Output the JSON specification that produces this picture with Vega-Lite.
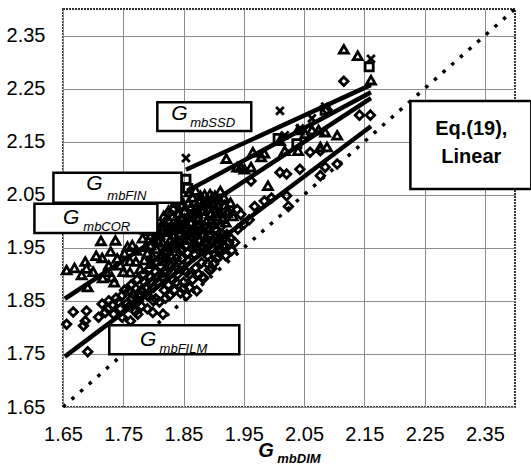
{
  "$schema": "https://vega.github.io/schema/vega-lite/v6.json",
  "width": 452,
  "height": 398,
  "autosize": {"type": "none"},
  "padding": {"left": 63, "top": 9, "right": 16, "bottom": 58},
  "background": "white",
  "config": {
    "view": {"stroke": "#333", "strokeWidth": 2, "strokeDash": [2, 1]},
    "font": "Liberation Sans"
  },
  "datasets": {
    "pts": [
      {"x": 1.656, "y": 1.908, "s": "tri"}, {"x": 1.669, "y": 1.912, "s": "tri"}, {"x": 1.687, "y": 1.924, "s": "tri"},
      {"x": 1.689, "y": 1.911, "s": "tri"}, {"x": 1.681, "y": 1.899, "s": "tri"}, {"x": 1.691, "y": 1.876, "s": "tri"},
      {"x": 1.713, "y": 1.963, "s": "tri"}, {"x": 1.737, "y": 1.964, "s": "tri"}, {"x": 1.729, "y": 1.943, "s": "tri"},
      {"x": 1.715, "y": 1.931, "s": "tri"}, {"x": 1.726, "y": 1.917, "s": "tri"}, {"x": 1.716, "y": 1.893, "s": "tri"},
      {"x": 1.731, "y": 1.895, "s": "tri"}, {"x": 1.745, "y": 1.917, "s": "tri"}, {"x": 1.761, "y": 1.925, "s": "tri"},
      {"x": 1.761, "y": 1.904, "s": "tri"}, {"x": 1.757, "y": 1.952, "s": "tri"}, {"x": 1.765, "y": 1.955, "s": "tri"},
      {"x": 1.771, "y": 1.924, "s": "tri"}, {"x": 1.785, "y": 1.927, "s": "tri"}, {"x": 1.796, "y": 1.920, "s": "tri"},
      {"x": 1.782, "y": 1.968, "s": "tri"}, {"x": 1.796, "y": 1.974, "s": "tri"},
      {"x": 1.700, "y": 1.905, "s": "tri"}, {"x": 1.705, "y": 1.935, "s": "tri"}, {"x": 1.722, "y": 1.905, "s": "tri"},
      {"x": 1.740, "y": 1.930, "s": "tri"}, {"x": 1.750, "y": 1.905, "s": "tri"}, {"x": 1.735, "y": 1.885, "s": "tri"},
      {"x": 1.752, "y": 1.940, "s": "tri"}, {"x": 1.772, "y": 1.945, "s": "tri"}, {"x": 1.778, "y": 1.910, "s": "tri"},
      {"x": 1.790, "y": 1.940, "s": "tri"}, {"x": 1.795, "y": 1.955, "s": "tri"}, {"x": 1.800, "y": 1.965, "s": "tri"},
      {"x": 1.805, "y": 1.948, "s": "tri"}, {"x": 1.810, "y": 1.975, "s": "tri"}, {"x": 1.812, "y": 1.990, "s": "tri"},
      {"x": 1.815, "y": 1.960, "s": "tri"}, {"x": 1.818, "y": 1.998, "s": "tri"}, {"x": 1.820, "y": 1.945, "s": "tri"},
      {"x": 1.822, "y": 1.980, "s": "tri"}, {"x": 1.825, "y": 2.003, "s": "tri"}, {"x": 1.828, "y": 1.965, "s": "tri"},
      {"x": 1.830, "y": 1.990, "s": "tri"}, {"x": 1.832, "y": 2.010, "s": "tri"}, {"x": 1.835, "y": 1.975, "s": "tri"},
      {"x": 1.838, "y": 1.950, "s": "tri"}, {"x": 1.840, "y": 1.998, "s": "tri"}, {"x": 1.842, "y": 2.015, "s": "tri"},
      {"x": 1.845, "y": 1.985, "s": "tri"}, {"x": 1.848, "y": 2.005, "s": "tri"}, {"x": 1.850, "y": 1.965, "s": "tri"},
      {"x": 1.852, "y": 2.020, "s": "tri"}, {"x": 1.855, "y": 1.995, "s": "tri"}, {"x": 1.858, "y": 2.035, "s": "tri"},
      {"x": 1.860, "y": 1.978, "s": "tri"}, {"x": 1.862, "y": 2.010, "s": "tri"}, {"x": 1.865, "y": 2.045, "s": "tri"},
      {"x": 1.868, "y": 1.990, "s": "tri"}, {"x": 1.870, "y": 2.025, "s": "tri"}, {"x": 1.872, "y": 1.955, "s": "tri"},
      {"x": 1.875, "y": 2.005, "s": "tri"}, {"x": 1.878, "y": 2.040, "s": "tri"}, {"x": 1.880, "y": 1.985, "s": "tri"},
      {"x": 1.882, "y": 2.020, "s": "tri"}, {"x": 1.885, "y": 2.050, "s": "tri"}, {"x": 1.888, "y": 2.000, "s": "tri"},
      {"x": 1.890, "y": 2.035, "s": "tri"}, {"x": 1.893, "y": 1.975, "s": "tri"}, {"x": 1.895, "y": 2.015, "s": "tri"},
      {"x": 1.898, "y": 2.045, "s": "tri"}, {"x": 1.900, "y": 1.995, "s": "tri"}, {"x": 1.903, "y": 2.025, "s": "tri"},
      {"x": 1.905, "y": 2.010, "s": "tri"}, {"x": 1.910, "y": 2.040, "s": "tri"}, {"x": 1.915, "y": 2.005, "s": "tri"},
      {"x": 1.918, "y": 2.030, "s": "tri"}, {"x": 1.925, "y": 2.020, "s": "tri"}, {"x": 1.806, "y": 1.925, "s": "tri"},
      {"x": 1.830, "y": 1.935, "s": "tri"}, {"x": 1.878, "y": 2.048, "s": "tri"}, {"x": 1.894, "y": 2.051, "s": "tri"},
      {"x": 1.911, "y": 2.057, "s": "tri"}, {"x": 1.900, "y": 2.032, "s": "tri"}, {"x": 1.906, "y": 2.016, "s": "tri"},
      {"x": 1.883, "y": 2.022, "s": "tri"}, {"x": 1.922, "y": 2.016, "s": "tri"},
      {"x": 1.787, "y": 1.952, "s": "tri"}, {"x": 1.793, "y": 1.982, "s": "tri"}, {"x": 1.798, "y": 1.935, "s": "tri"},
      {"x": 1.803, "y": 1.990, "s": "tri"}, {"x": 1.808, "y": 1.962, "s": "tri"}, {"x": 1.813, "y": 1.938, "s": "tri"},
      {"x": 1.817, "y": 2.010, "s": "tri"}, {"x": 1.823, "y": 1.955, "s": "tri"}, {"x": 1.827, "y": 1.985, "s": "tri"},
      {"x": 1.833, "y": 2.025, "s": "tri"}, {"x": 1.837, "y": 1.963, "s": "tri"}, {"x": 1.843, "y": 1.995, "s": "tri"},
      {"x": 1.847, "y": 2.030, "s": "tri"}, {"x": 1.853, "y": 1.975, "s": "tri"}, {"x": 1.857, "y": 2.008, "s": "tri"},
      {"x": 1.863, "y": 2.028, "s": "tri"}, {"x": 1.867, "y": 1.962, "s": "tri"}, {"x": 1.873, "y": 2.015, "s": "tri"},
      {"x": 1.877, "y": 1.995, "s": "tri"}, {"x": 1.883, "y": 2.035, "s": "tri"}, {"x": 1.887, "y": 1.970, "s": "tri"},
      {"x": 1.892, "y": 2.025, "s": "tri"}, {"x": 1.897, "y": 2.003, "s": "tri"}, {"x": 1.902, "y": 2.048, "s": "tri"},
      {"x": 1.907, "y": 2.030, "s": "tri"}, {"x": 1.912, "y": 2.015, "s": "tri"}, {"x": 1.917, "y": 2.045, "s": "tri"},
      {"x": 1.920, "y": 1.998, "s": "tri"}, {"x": 1.928, "y": 2.035, "s": "tri"}, {"x": 1.932, "y": 2.010, "s": "tri"},
      {"x": 1.860, "y": 2.055, "s": "tri"}, {"x": 1.870, "y": 2.058, "s": "tri"}, {"x": 1.880, "y": 2.030, "s": "tri"},
      {"x": 1.846, "y": 2.040, "s": "tri"}, {"x": 1.836, "y": 2.035, "s": "tri"}, {"x": 1.825, "y": 2.020, "s": "tri"},
      {"x": 1.815, "y": 1.985, "s": "tri"}, {"x": 1.805, "y": 1.975, "s": "tri"}, {"x": 1.786, "y": 1.985, "s": "tri"},
      {"x": 1.921, "y": 2.118, "s": "tri"}, {"x": 1.939, "y": 2.102, "s": "tri"}, {"x": 1.951, "y": 2.098, "s": "tri"},
      {"x": 1.965, "y": 2.130, "s": "tri"}, {"x": 1.979, "y": 2.121, "s": "tri"}, {"x": 1.990, "y": 2.067, "s": "tri"},
      {"x": 1.984, "y": 2.128, "s": "tri"}, {"x": 1.962, "y": 2.102, "s": "tri"}, {"x": 1.945, "y": 2.102, "s": "tri"},
      {"x": 2.010, "y": 2.152, "s": "tri"}, {"x": 2.018, "y": 2.133, "s": "tri"}, {"x": 2.040, "y": 2.172, "s": "tri"},
      {"x": 2.040, "y": 2.133, "s": "tri"}, {"x": 2.052, "y": 2.165, "s": "tri"}, {"x": 2.063, "y": 2.172, "s": "tri"},
      {"x": 2.074, "y": 2.172, "s": "tri"}, {"x": 2.085, "y": 2.168, "s": "tri"}, {"x": 2.077, "y": 2.140, "s": "tri"},
      {"x": 2.088, "y": 2.140, "s": "tri"}, {"x": 2.105, "y": 2.162, "s": "tri"},
      {"x": 2.116, "y": 2.324, "s": "tri"}, {"x": 2.139, "y": 2.312, "s": "tri"}, {"x": 2.161, "y": 2.266, "s": "tri"},
      {"x": 1.854, "y": 2.119, "s": "x"}, {"x": 2.010, "y": 2.208, "s": "x"}, {"x": 2.161, "y": 2.306, "s": "x"},
      {"x": 2.043, "y": 2.175, "s": "x"}, {"x": 2.063, "y": 2.194, "s": "x"}, {"x": 2.018, "y": 2.162, "s": "x"},
      {"x": 2.085, "y": 2.216, "s": "x"},
      {"x": 1.854, "y": 2.079, "s": "sq"}, {"x": 2.158, "y": 2.291, "s": "sq"}, {"x": 2.007, "y": 2.156, "s": "sq"},
      {"x": 2.038, "y": 2.146, "s": "sq"}, {"x": 2.085, "y": 2.209, "s": "sq"}, {"x": 1.857, "y": 2.062, "s": "sq"},
      {"x": 1.656, "y": 1.806, "s": "dia"}, {"x": 1.667, "y": 1.829, "s": "dia"}, {"x": 1.684, "y": 1.803, "s": "dia"},
      {"x": 1.689, "y": 1.831, "s": "dia"}, {"x": 1.687, "y": 1.812, "s": "dia"}, {"x": 1.691, "y": 1.754, "s": "dia"},
      {"x": 1.709, "y": 1.819, "s": "dia"}, {"x": 1.715, "y": 1.844, "s": "dia"}, {"x": 1.726, "y": 1.850, "s": "dia"},
      {"x": 1.720, "y": 1.828, "s": "dia"}, {"x": 1.734, "y": 1.825, "s": "dia"}, {"x": 1.748, "y": 1.860, "s": "dia"},
      {"x": 1.760, "y": 1.869, "s": "dia"}, {"x": 1.771, "y": 1.873, "s": "dia"}, {"x": 1.774, "y": 1.825, "s": "dia"},
      {"x": 1.748, "y": 1.819, "s": "dia"}, {"x": 1.762, "y": 1.812, "s": "dia"},
      {"x": 1.760, "y": 1.840, "s": "dia"}, {"x": 1.765, "y": 1.855, "s": "dia"}, {"x": 1.770, "y": 1.830, "s": "dia"},
      {"x": 1.775, "y": 1.850, "s": "dia"}, {"x": 1.745, "y": 1.835, "s": "dia"}, {"x": 1.790, "y": 1.835, "s": "dia"},
      {"x": 1.799, "y": 1.828, "s": "dia"}, {"x": 1.816, "y": 1.825, "s": "dia"}, {"x": 1.804, "y": 1.854, "s": "dia"},
      {"x": 1.827, "y": 1.860, "s": "dia"}, {"x": 1.838, "y": 1.885, "s": "dia"}, {"x": 1.855, "y": 1.904, "s": "dia"},
      {"x": 1.845, "y": 1.865, "s": "dia"}, {"x": 1.860, "y": 1.875, "s": "dia"}, {"x": 1.855, "y": 1.860, "s": "dia"},
      {"x": 1.780, "y": 1.870, "s": "dia"}, {"x": 1.785, "y": 1.885, "s": "dia"}, {"x": 1.790, "y": 1.860, "s": "dia"},
      {"x": 1.795, "y": 1.895, "s": "dia"}, {"x": 1.800, "y": 1.875, "s": "dia"}, {"x": 1.803, "y": 1.905, "s": "dia"},
      {"x": 1.808, "y": 1.885, "s": "dia"}, {"x": 1.812, "y": 1.915, "s": "dia"}, {"x": 1.815, "y": 1.895, "s": "dia"},
      {"x": 1.818, "y": 1.870, "s": "dia"}, {"x": 1.820, "y": 1.930, "s": "dia"}, {"x": 1.822, "y": 1.905, "s": "dia"},
      {"x": 1.825, "y": 1.880, "s": "dia"}, {"x": 1.828, "y": 1.945, "s": "dia"}, {"x": 1.830, "y": 1.915, "s": "dia"},
      {"x": 1.832, "y": 1.890, "s": "dia"}, {"x": 1.835, "y": 1.960, "s": "dia"}, {"x": 1.838, "y": 1.930, "s": "dia"},
      {"x": 1.840, "y": 1.900, "s": "dia"}, {"x": 1.842, "y": 1.975, "s": "dia"}, {"x": 1.845, "y": 1.945, "s": "dia"},
      {"x": 1.848, "y": 1.915, "s": "dia"}, {"x": 1.850, "y": 1.885, "s": "dia"}, {"x": 1.852, "y": 1.985, "s": "dia"},
      {"x": 1.855, "y": 1.955, "s": "dia"}, {"x": 1.858, "y": 1.925, "s": "dia"}, {"x": 1.860, "y": 1.900, "s": "dia"},
      {"x": 1.862, "y": 1.995, "s": "dia"}, {"x": 1.865, "y": 1.968, "s": "dia"}, {"x": 1.868, "y": 1.938, "s": "dia"},
      {"x": 1.870, "y": 1.912, "s": "dia"}, {"x": 1.872, "y": 2.005, "s": "dia"}, {"x": 1.875, "y": 1.980, "s": "dia"},
      {"x": 1.878, "y": 1.950, "s": "dia"}, {"x": 1.880, "y": 1.922, "s": "dia"}, {"x": 1.882, "y": 1.895, "s": "dia"},
      {"x": 1.885, "y": 1.990, "s": "dia"}, {"x": 1.888, "y": 1.962, "s": "dia"}, {"x": 1.890, "y": 1.935, "s": "dia"},
      {"x": 1.893, "y": 1.908, "s": "dia"}, {"x": 1.895, "y": 1.975, "s": "dia"}, {"x": 1.898, "y": 1.948, "s": "dia"},
      {"x": 1.900, "y": 1.920, "s": "dia"}, {"x": 1.903, "y": 1.985, "s": "dia"}, {"x": 1.905, "y": 1.958, "s": "dia"},
      {"x": 1.908, "y": 1.932, "s": "dia"}, {"x": 1.910, "y": 1.968, "s": "dia"}, {"x": 1.913, "y": 1.945, "s": "dia"},
      {"x": 1.915, "y": 1.975, "s": "dia"}, {"x": 1.918, "y": 1.950, "s": "dia"}, {"x": 1.920, "y": 1.935, "s": "dia"},
      {"x": 1.925, "y": 1.960, "s": "dia"}, {"x": 1.930, "y": 1.945, "s": "dia"},
      {"x": 1.725, "y": 1.835, "s": "dia"}, {"x": 1.732, "y": 1.842, "s": "dia"}, {"x": 1.738, "y": 1.855, "s": "dia"},
      {"x": 1.742, "y": 1.848, "s": "dia"}, {"x": 1.752, "y": 1.870, "s": "dia"}, {"x": 1.756, "y": 1.845, "s": "dia"},
      {"x": 1.763, "y": 1.880, "s": "dia"}, {"x": 1.767, "y": 1.862, "s": "dia"}, {"x": 1.773, "y": 1.890, "s": "dia"},
      {"x": 1.777, "y": 1.862, "s": "dia"}, {"x": 1.783, "y": 1.900, "s": "dia"}, {"x": 1.787, "y": 1.875, "s": "dia"},
      {"x": 1.793, "y": 1.910, "s": "dia"}, {"x": 1.797, "y": 1.885, "s": "dia"}, {"x": 1.803, "y": 1.922, "s": "dia"},
      {"x": 1.807, "y": 1.895, "s": "dia"}, {"x": 1.813, "y": 1.930, "s": "dia"}, {"x": 1.817, "y": 1.905, "s": "dia"},
      {"x": 1.823, "y": 1.942, "s": "dia"}, {"x": 1.827, "y": 1.918, "s": "dia"}, {"x": 1.833, "y": 1.955, "s": "dia"},
      {"x": 1.837, "y": 1.915, "s": "dia"}, {"x": 1.843, "y": 1.962, "s": "dia"}, {"x": 1.847, "y": 1.930, "s": "dia"},
      {"x": 1.853, "y": 1.970, "s": "dia"}, {"x": 1.857, "y": 1.940, "s": "dia"}, {"x": 1.863, "y": 1.982, "s": "dia"},
      {"x": 1.867, "y": 1.950, "s": "dia"}, {"x": 1.873, "y": 1.990, "s": "dia"}, {"x": 1.877, "y": 1.962, "s": "dia"},
      {"x": 1.883, "y": 1.975, "s": "dia"}, {"x": 1.887, "y": 1.945, "s": "dia"}, {"x": 1.893, "y": 1.985, "s": "dia"},
      {"x": 1.897, "y": 1.960, "s": "dia"}, {"x": 1.903, "y": 1.970, "s": "dia"}, {"x": 1.907, "y": 1.945, "s": "dia"},
      {"x": 1.912, "y": 1.990, "s": "dia"}, {"x": 1.922, "y": 1.975, "s": "dia"}, {"x": 1.935, "y": 1.960, "s": "dia"},
      {"x": 1.940, "y": 1.985, "s": "dia"}, {"x": 1.950, "y": 1.995, "s": "dia"},
      {"x": 1.800, "y": 1.850, "s": "dia"}, {"x": 1.810, "y": 1.848, "s": "dia"}, {"x": 1.835, "y": 1.870, "s": "dia"},
      {"x": 1.865, "y": 1.890, "s": "dia"}, {"x": 1.875, "y": 1.900, "s": "dia"}, {"x": 1.890, "y": 1.920, "s": "dia"},
      {"x": 1.905, "y": 1.930, "s": "dia"}, {"x": 1.780, "y": 1.840, "s": "dia"}, {"x": 1.820, "y": 1.855, "s": "dia"},
      {"x": 1.897, "y": 1.911, "s": "dia"}, {"x": 1.883, "y": 1.892, "s": "dia"}, {"x": 1.872, "y": 1.869, "s": "dia"},
      {"x": 1.849, "y": 1.873, "s": "dia"},
      {"x": 1.928, "y": 1.968, "s": "dia"}, {"x": 1.917, "y": 1.955, "s": "dia"}, {"x": 1.939, "y": 2.022, "s": "dia"},
      {"x": 1.945, "y": 2.013, "s": "dia"}, {"x": 1.962, "y": 2.076, "s": "dia"}, {"x": 1.959, "y": 2.003, "s": "dia"},
      {"x": 1.968, "y": 2.028, "s": "dia"}, {"x": 1.984, "y": 2.038, "s": "dia"}, {"x": 1.996, "y": 2.044, "s": "dia"},
      {"x": 2.010, "y": 2.092, "s": "dia"}, {"x": 2.021, "y": 2.089, "s": "dia"}, {"x": 2.021, "y": 2.048, "s": "dia"},
      {"x": 2.024, "y": 2.028, "s": "dia"}, {"x": 2.043, "y": 2.098, "s": "dia"}, {"x": 2.060, "y": 2.130, "s": "dia"},
      {"x": 2.077, "y": 2.133, "s": "dia"}, {"x": 2.077, "y": 2.086, "s": "dia"}, {"x": 2.085, "y": 2.102, "s": "dia"},
      {"x": 2.105, "y": 2.108, "s": "dia"}, {"x": 2.116, "y": 2.264, "s": "dia"}, {"x": 2.142, "y": 2.200, "s": "dia"},
      {"x": 2.160, "y": 2.200, "s": "dia"}, {"x": 2.088, "y": 2.210, "s": "dia"}
    ],
    "fits": [
      {"series": "SSD", "x": 1.854, "y": 2.097}, {"series": "SSD", "x": 2.161, "y": 2.257},
      {"series": "FIN", "x": 1.856, "y": 2.057}, {"series": "FIN", "x": 2.161, "y": 2.243},
      {"series": "COR", "x": 1.653, "y": 1.854}, {"series": "COR", "x": 2.161, "y": 2.232},
      {"series": "FILM", "x": 1.653, "y": 1.745}, {"series": "FILM", "x": 2.161, "y": 2.179}
    ],
    "diag": [{"x": 1.65, "y": 1.65}, {"x": 2.40, "y": 2.40}],
    "boxes": [
      {"name": "SSD", "x1": 1.8065, "x2": 1.9624, "y1": 2.2245, "y2": 2.1699},
      {"name": "FIN", "x1": 1.6341, "x2": 1.8465, "y1": 2.0912, "y2": 2.0347},
      {"name": "COR", "x1": 1.6026, "x2": 1.8066, "y1": 2.0328, "y2": 1.9781},
      {"name": "FILM", "x1": 1.7268, "x2": 1.9425, "y1": 1.8040, "y2": 1.7493},
      {"name": "Eq", "x1": 2.2264, "x2": 2.4271, "y1": 2.2264, "y2": 2.0606}
    ],
    "bigG": [
      {"x": 1.8297, "y": 2.1908}, {"x": 1.6887, "y": 2.0589},
      {"x": 1.6500, "y": 1.9948}, {"x": 1.7778, "y": 1.7653}
    ],
    "subs": [
      {"t": "mbSSD", "x": 1.8612, "y": 2.1776}, {"t": "mbFIN", "x": 1.7235, "y": 2.0401},
      {"t": "mbCOR", "x": 1.6837, "y": 1.9826}, {"t": "mbFILM", "x": 1.8103, "y": 1.7527}
    ],
    "eq": [{"t": "Eq.(19),", "x": 2.3275, "y": 2.1625}, {"t": "Linear", "x": 2.3275, "y": 2.1098}],
    "xtG": [{"t": "G", "x": 1.974, "y": 1.5558}],
    "xtSub": [{"t": "mbDIM", "x": 2.0056, "y": 1.5445}]
  },
  "encoding": {
    "x": {"field": "x", "type": "quantitative",
      "scale": {"domain": [1.65, 2.40], "nice": false, "zero": false},
      "axis": {"values": [1.65, 1.75, 1.85, 1.95, 2.05, 2.15, 2.25, 2.35], "format": ".2f", "title": null,
        "grid": true, "gridColor": "#8c8c8c", "gridWidth": 1, "gridDash": [], "domain": false, "ticks": false,
        "labelFont": "Liberation Sans", "labelFontSize": 20, "labelColor": "black", "labelPadding": 17, "labelFlush": false}},
    "y": {"field": "y", "type": "quantitative",
      "scale": {"domain": [1.65, 2.40], "nice": false, "zero": false},
      "axis": {"values": [1.65, 1.75, 1.85, 1.95, 2.05, 2.15, 2.25, 2.35], "format": ".2f", "title": null,
        "grid": true, "gridColor": "#8c8c8c", "gridWidth": 1, "gridDash": [], "domain": false, "ticks": false,
        "labelFont": "Liberation Sans", "labelFontSize": 20, "labelColor": "black", "labelPadding": 18, "labelFlush": false}}
  },
  "layer": [
    {
      "data": {"name": "diag"},
      "mark": {"type": "line", "color": "black", "strokeWidth": 3.5, "strokeDash": [3.5, 8]}
    },
    {
      "data": {"name": "pts"},
      "mark": {"type": "point", "filled": false, "color": "black", "strokeWidth": 2.8, "opacity": 1},
      "encoding": {
        "shape": {"field": "s", "type": "nominal", "legend": null,
          "scale": {"domain": ["tri", "dia", "sq", "x"], "range": ["triangle-up", "diamond", "square", "M-1,-1L1,1M-1,1L1,-1"]}},
        "size": {"field": "s", "type": "nominal", "legend": null,
          "scale": {"domain": ["tri", "dia", "sq", "x"], "range": [80, 60, 50, 55]}}
      }
    },
    {
      "data": {"name": "fits"},
      "mark": {"type": "line", "color": "black", "strokeWidth": 4.5},
      "encoding": {"detail": {"field": "series"}}
    },
    {
      "data": {"name": "boxes"},
      "mark": {"type": "rect", "fill": "white", "stroke": "black", "strokeWidth": 2.5},
      "encoding": {
        "x": {"field": "x1", "type": "quantitative"},
        "x2": {"field": "x2"},
        "y": {"field": "y1", "type": "quantitative"},
        "y2": {"field": "y2"}
      }
    },
    {
      "data": {"name": "bigG"},
      "mark": {"type": "text", "text": "G", "font": "Liberation Sans", "fontSize": 21, "fontStyle": "italic", "align": "left", "baseline": "alphabetic", "color": "black"}
    },
    {
      "data": {"name": "subs"},
      "mark": {"type": "text", "font": "Liberation Sans", "fontSize": 13, "fontStyle": "italic", "align": "left", "baseline": "alphabetic", "color": "black"},
      "encoding": {"text": {"field": "t"}}
    },
    {
      "data": {"name": "eq"},
      "mark": {"type": "text", "font": "Liberation Sans", "fontSize": 20, "fontWeight": "bold", "align": "center", "baseline": "alphabetic", "color": "black"},
      "encoding": {"text": {"field": "t"}}
    },
    {
      "data": {"name": "xtG"},
      "mark": {"type": "text", "font": "Liberation Sans", "fontSize": 20, "fontStyle": "italic", "fontWeight": "bold", "align": "left", "baseline": "alphabetic", "color": "black"},
      "encoding": {"text": {"field": "t"}}
    },
    {
      "data": {"name": "xtSub"},
      "mark": {"type": "text", "font": "Liberation Sans", "fontSize": 13, "fontStyle": "italic", "fontWeight": "bold", "align": "left", "baseline": "alphabetic", "color": "black"},
      "encoding": {"text": {"field": "t"}}
    }
  ]
}
